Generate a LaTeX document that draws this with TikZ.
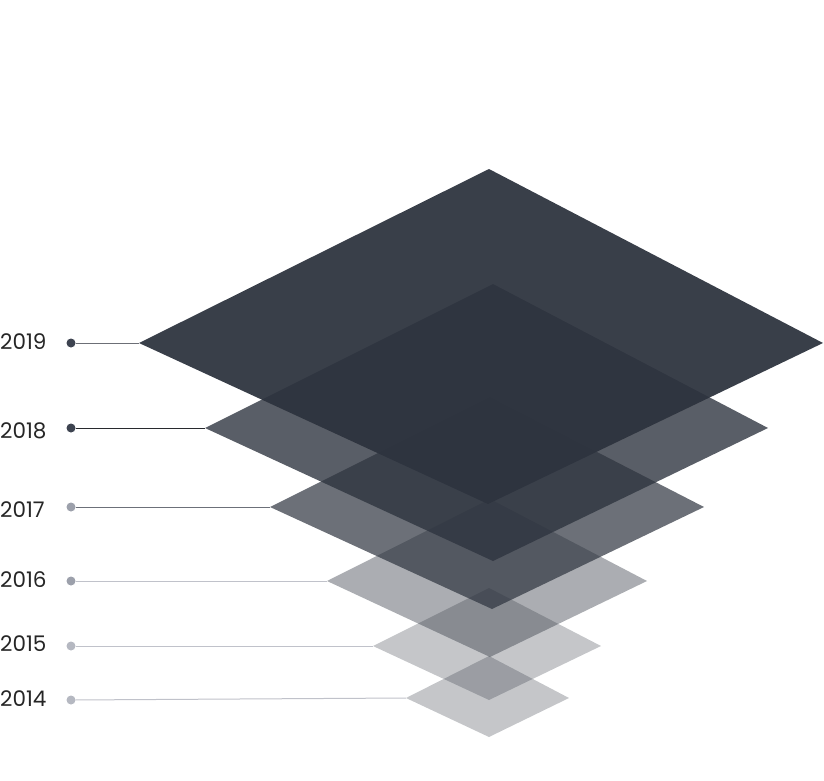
\documentclass[tikz,border=0pt]{standalone}
\usepackage{fontspec}
\setmainfont{Poppins}
\definecolor{slate}{RGB}{45,51,62}
\definecolor{dotdark}{RGB}{61,67,80}
\definecolor{dotmid}{RGB}{156,160,171}
\definecolor{dotlight}{RGB}{181,184,193}
\definecolor{linegray}{RGB}{108,111,118}
\definecolor{linedark}{RGB}{40,42,46}
\definecolor{linemid}{RGB}{108,112,121}
\definecolor{linelight}{RGB}{192,194,202}
\tikzset{
  year/.style={anchor=west,inner sep=0pt,text=black!85,font=\fontsize{21.5}{25}\selectfont},
  yeardot/.style={circle,inner sep=0pt,minimum size=9pt,fill=#1},
  layer/.style={fill=slate,fill opacity=#1}
}
\begin{document}
\begin{tikzpicture}[x=1pt,y=-1pt]
\useasboundingbox (0,0) rectangle (824,781);
% left corners of the layers
\coordinate (l19) at (139,343);
\coordinate (l18) at (205,428);
\coordinate (l17) at (270,507);
\coordinate (l16) at (327,581);
\coordinate (l15) at (373,646);
\coordinate (l14) at (406,698);
% layers, bottom to top
\fill[layer=0.28] (l14) -- (489,656) -- (569,698) -- (489,737) -- cycle;
\fill[layer=0.28] (l15) -- (489,588) -- (601,646) -- (489,700) -- cycle;
\fill[layer=0.40] (l16) -- (490,499) -- (647,581) -- (490,657) -- cycle;
\fill[layer=0.70] (l17) -- (490,397) -- (704,507) -- (492,609) -- cycle;
\fill[layer=0.79] (l18) -- (493,284) -- (768,428) -- (493,561) -- cycle;
\fill[layer=0.94] (l19) -- (489,169) -- (823,343) -- (488,504) -- cycle;
% year markers
\node[yeardot=dotdark] (d19) at (71,343) {};
\node[yeardot=dotdark] (d18) at (71,428) {};
\node[yeardot=dotmid] (d17) at (71,507) {};
\node[yeardot=dotmid] (d16) at (71,581) {};
\node[yeardot=dotlight] (d15) at (71,646) {};
\node[yeardot=dotlight] (d14) at (71,700) {};
\draw[line width=1pt,linegray] (d19) -- (l19);
\draw[line width=1pt,linedark] (d18) -- (l18);
\draw[line width=1pt,linemid] (d17) -- (l17);
\draw[line width=1pt,linelight] (d16) -- (l16);
\draw[line width=1pt,linelight] (d15) -- (l15);
\draw[line width=1pt,linelight] (d14) -- (l14);
\node[year] (y19) at (0,342) {2019};
\node[year] (y18) at (0,431) {2018};
\node[year] (y17) at (0,510) {2017};
\node[year] (y16) at (0,580) {2016};
\node[year] (y15) at (0,644) {2015};
\node[year] (y14) at (0,699) {2014};
\end{tikzpicture}
\end{document}
